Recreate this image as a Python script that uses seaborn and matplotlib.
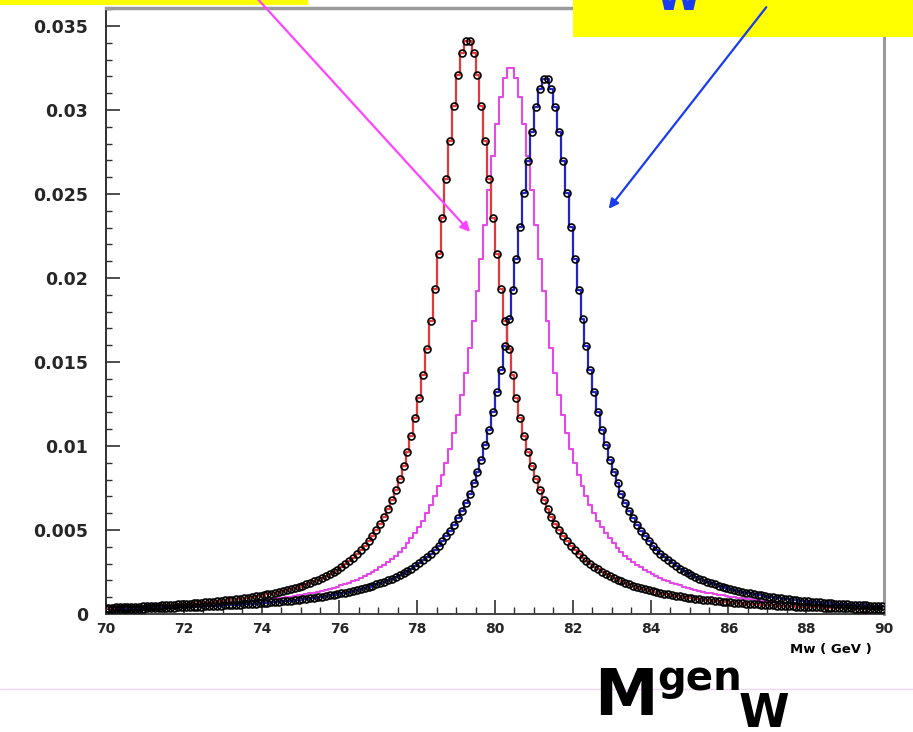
import numpy as np
import pandas as pd
import matplotlib
matplotlib.use("Agg")
import matplotlib.pyplot as plt
import seaborn as sns
from matplotlib.patches import Rectangle, FancyArrowPatch
from matplotlib.lines import Line2D
from matplotlib.ticker import MultipleLocator

# ---------------- data ----------------
# Histogram contents, 0.1 GeV bins from 70 to 90 GeV.
# "_even" lists: bins starting at 70.0, 70.2, ..., 89.8 ; "_odd": 70.1, 70.3, ..., 89.9
red_even = [
    0.000372, 0.000388, 0.000406, 0.000425, 0.000445, 0.000466, 0.000489, 0.000514, 0.000541, 0.000570,
    0.000601, 0.000635, 0.000672, 0.000713, 0.000756, 0.000804, 0.000857, 0.000915, 0.000979, 0.00105,
    0.00113, 0.00122, 0.00132, 0.00143, 0.00155, 0.00169, 0.00186, 0.00204, 0.00226, 0.00251,
    0.00280, 0.00314, 0.00355, 0.00404, 0.00463, 0.00536, 0.00626, 0.00737, 0.00878, 0.01057,
    0.01285, 0.01575, 0.01934, 0.02360, 0.02814, 0.03207, 0.03411, 0.03340, 0.03026, 0.02588,
    0.02140, 0.01746, 0.01422, 0.01164, 0.00963, 0.00804, 0.00678, 0.00578, 0.00498, 0.00432,
    0.00378, 0.00334, 0.00296, 0.00265, 0.00238, 0.00214, 0.00195, 0.00177, 0.00162, 0.00149,
    0.00137, 0.00126, 0.00117, 0.00109, 0.00101, 0.000946, 0.000885, 0.000830, 0.000780, 0.000734,
    0.000692, 0.000653, 0.000618, 0.000585, 0.000555, 0.000528, 0.000502, 0.000478, 0.000455, 0.000435,
    0.000415, 0.000397, 0.000380, 0.000364, 0.000349, 0.000335, 0.000322, 0.000310, 0.000298, 0.000287,
]
red_odd = [
    0.000380, 0.000397, 0.000415, 0.000435, 0.000455, 0.000478, 0.000502, 0.000528, 0.000555, 0.000585,
    0.000618, 0.000653, 0.000692, 0.000734, 0.000780, 0.000830, 0.000885, 0.000946, 0.001014, 0.001088,
    0.001172, 0.001265, 0.001369, 0.001487, 0.001620, 0.001772, 0.001945, 0.002145, 0.002376, 0.002646,
    0.002962, 0.003337, 0.003784, 0.004323, 0.004979, 0.005786, 0.006786, 0.008044, 0.009626, 0.01164,
    0.01422, 0.01746, 0.02140, 0.02588, 0.03026, 0.03340, 0.03411, 0.03207, 0.02814, 0.02360,
    0.01934, 0.01575, 0.01285, 0.01057, 0.00878, 0.00737, 0.00626, 0.00536, 0.00463, 0.00404,
    0.00355, 0.00314, 0.00280, 0.00251, 0.00226, 0.00204, 0.00186, 0.00169, 0.00155, 0.00143,
    0.00132, 0.00122, 0.00113, 0.00105, 0.000979, 0.000915, 0.000857, 0.000804, 0.000756, 0.000713,
    0.000672, 0.000635, 0.000601, 0.000570, 0.000541, 0.000514, 0.000489, 0.000466, 0.000445, 0.000425,
    0.000406, 0.000388, 0.000372, 0.000357, 0.000342, 0.000328, 0.000316, 0.000304, 0.000292, 0.000281,
]

magenta_even = [
    0.000314, 0.000326, 0.000339, 0.000353, 0.000368, 0.000383, 0.000400, 0.000418, 0.000437, 0.000457,
    0.000479, 0.000503, 0.000528, 0.000555, 0.000584, 0.000616, 0.000650, 0.000687, 0.000728, 0.000772,
    0.000820, 0.000873, 0.000931, 0.000995, 0.00107, 0.00114, 0.00123, 0.00133, 0.00144, 0.00156,
    0.00170, 0.00186, 0.00204, 0.00225, 0.00249, 0.00277, 0.00309, 0.00348, 0.00394, 0.00450,
    0.00517, 0.00599, 0.00700, 0.00827, 0.00985, 0.01185, 0.01435, 0.01746, 0.02116, 0.02526,
    0.02917, 0.03191, 0.03252, 0.03075, 0.02729, 0.02318, 0.01924, 0.01583, 0.01303, 0.01079,
    0.009013, 0.007599, 0.006469, 0.005558, 0.004815, 0.004206, 0.003700, 0.003280, 0.002924, 0.002621,
    0.002362, 0.002138, 0.001945, 0.001776, 0.001628, 0.001497, 0.001381, 0.001278, 0.001186, 0.001103,
    0.001029, 0.000962, 0.000901, 0.000846, 0.000795, 0.000749, 0.000707, 0.000668, 0.000633, 0.000600,
    0.000569, 0.000541, 0.000515, 0.000491, 0.000468, 0.000447, 0.000427, 0.000409, 0.000392, 0.000375,
]
magenta_odd = [
    0.000320, 0.000332, 0.000346, 0.000360, 0.000375, 0.000392, 0.000409, 0.000427, 0.000447, 0.000468,
    0.000491, 0.000515, 0.000541, 0.000569, 0.000600, 0.000633, 0.000668, 0.000707, 0.000749, 0.000795,
    0.000846, 0.000901, 0.000962, 0.001029, 0.001103, 0.001186, 0.001278, 0.001381, 0.001497, 0.001628,
    0.001776, 0.001945, 0.002138, 0.002362, 0.002621, 0.002924, 0.003280, 0.003700, 0.004206, 0.004815,
    0.005558, 0.006469, 0.007599, 0.009013, 0.01079, 0.01303, 0.01583, 0.01924, 0.02318, 0.02729,
    0.03075, 0.03252, 0.03191, 0.02917, 0.02526, 0.02116, 0.01746, 0.01435, 0.01185, 0.00985,
    0.00827, 0.00700, 0.00599, 0.00517, 0.00450, 0.00394, 0.00348, 0.00309, 0.00277, 0.00249,
    0.00225, 0.00204, 0.00186, 0.00170, 0.00156, 0.00144, 0.00133, 0.00123, 0.00114, 0.00107,
    0.000995, 0.000931, 0.000873, 0.000820, 0.000772, 0.000728, 0.000687, 0.000650, 0.000616, 0.000584,
    0.000555, 0.000528, 0.000503, 0.000479, 0.000457, 0.000437, 0.000418, 0.000400, 0.000383, 0.000368,
]

blue_even = [
    0.000276, 0.000285, 0.000296, 0.000307, 0.000319, 0.000331, 0.000344, 0.000358, 0.000373, 0.000389,
    0.000406, 0.000424, 0.000443, 0.000463, 0.000485, 0.000509, 0.000534, 0.000561, 0.000590, 0.000621,
    0.000655, 0.000692, 0.000732, 0.000776, 0.000824, 0.000876, 0.000933, 0.000996, 0.00106, 0.00114,
    0.00123, 0.00132, 0.00143, 0.00155, 0.00168, 0.00184, 0.00201, 0.00221, 0.00244, 0.00270,
    0.00302, 0.00338, 0.00381, 0.00433, 0.00495, 0.00570, 0.00663, 0.00777, 0.00919, 0.01097,
    0.01320, 0.01595, 0.01927, 0.02306, 0.02695, 0.03019, 0.03183, 0.03126, 0.02871, 0.02503,
    0.02112, 0.01754, 0.01450, 0.01202, 0.01003, 0.008444, 0.007170, 0.006143, 0.005309, 0.004625,
    0.004059, 0.003587, 0.003190, 0.002853, 0.002566, 0.002320, 0.002106, 0.001919, 0.001757, 0.001613,
    0.001486, 0.001374, 0.001273, 0.001183, 0.001102, 0.001029, 0.000963, 0.000904, 0.000849, 0.000799,
    0.000754, 0.000712, 0.000673, 0.000638, 0.000605, 0.000575, 0.000547, 0.000521, 0.000497, 0.000474,
]
blue_odd = [
    0.000280, 0.000291, 0.000301, 0.000313, 0.000325, 0.000338, 0.000351, 0.000366, 0.000381, 0.000397,
    0.000415, 0.000433, 0.000453, 0.000474, 0.000497, 0.000521, 0.000547, 0.000575, 0.000605, 0.000638,
    0.000673, 0.000712, 0.000754, 0.000799, 0.000849, 0.000904, 0.000963, 0.001029, 0.001102, 0.001183,
    0.001273, 0.001374, 0.001486, 0.001613, 0.001757, 0.001919, 0.002106, 0.002320, 0.002566, 0.002853,
    0.003190, 0.003587, 0.004059, 0.004625, 0.005309, 0.006143, 0.007170, 0.008444, 0.01003, 0.01202,
    0.01450, 0.01754, 0.02112, 0.02503, 0.02871, 0.03126, 0.03183, 0.03019, 0.02695, 0.02306,
    0.01927, 0.01595, 0.01320, 0.01097, 0.00919, 0.00777, 0.00663, 0.00570, 0.00495, 0.00433,
    0.00381, 0.00338, 0.00302, 0.00270, 0.00244, 0.00221, 0.00201, 0.00184, 0.00168, 0.00155,
    0.00143, 0.00132, 0.00123, 0.00114, 0.00106, 0.000996, 0.000933, 0.000876, 0.000824, 0.000776,
    0.000732, 0.000692, 0.000655, 0.000621, 0.000590, 0.000561, 0.000534, 0.000509, 0.000485, 0.000463,
]

x_ticks = [70, 72, 74, 76, 78, 80, 82, 84, 86, 88, 90]
x_tick_labels = ["70", "72", "74", "76", "78", "80", "82", "84", "86", "88", "90"]
y_ticks = [0, 0.005, 0.01, 0.015, 0.02, 0.025, 0.03, 0.035]
y_tick_labels = ["0", "0.005", "0.01", "0.015", "0.02", "0.025", "0.03", "0.035"]
x_axis_title = "Mw ( GeV )"

# ---------------- table ----------------
def merge(even, odd):
    return np.column_stack([even, odd]).ravel()

bin_edges = np.round(np.linspace(70.0, 90.0, 201), 2)
bin_centers = np.round((bin_edges[:-1] + bin_edges[1:]) / 2, 3)
df = pd.DataFrame({"mw": bin_centers,
                   "red": merge(red_even, red_odd),
                   "magenta": merge(magenta_even, magenta_odd),
                   "blue": merge(blue_even, blue_odd)})

# ---------------- styling ----------------
sns.set_style("white")
plt.rcParams["font.family"] = ["DejaVu Sans"]

W, H = 913, 732
fig = plt.figure(figsize=(W / 100, H / 100), dpi=100)
fig.patch.set_facecolor("white")

ax_left, ax_right, ax_bottom, ax_top = 106, 884, 614, 8
ax = fig.add_axes([ax_left / W, (H - ax_bottom) / H,
                   (ax_right - ax_left) / W, (ax_bottom - ax_top) / H])

RED = "#e03a3a"
MAG = "#e448e8"
BLUE = "#2424c0"

hist_kw = dict(binwidth=0.1, binrange=(70, 90), element="step", fill=False, ax=ax)
sns.histplot(data=df, x="mw", weights="magenta", color=MAG, linewidth=1.5, **hist_kw)
sns.histplot(data=df, x="mw", weights="blue", color=BLUE, linewidth=1.6, **hist_kw)
sns.histplot(data=df, x="mw", weights="red", color=RED, linewidth=1.6, **hist_kw)

for col in ["blue", "red"]:
    sns.lineplot(data=df, x="mw", y=col, ax=ax, marker="o", linestyle="none",
                 markersize=5, mfc="none", mec="black", mew=1.2, color="black",
                 legend=False, zorder=5)

ax.set_xlim(70, 90)
ax.set_ylim(0, (ax_bottom - ax_top) * 0.005 / 84)

ax.set_xticks(x_ticks)
ax.set_xticklabels(x_tick_labels, fontsize=10, fontweight="bold")
ax.set_yticks(y_ticks)
ax.set_yticklabels(y_tick_labels, fontsize=12.5, fontweight="bold")
ax.xaxis.set_minor_locator(MultipleLocator(0.5))
ax.yaxis.set_minor_locator(MultipleLocator(0.001))
ax.tick_params(axis="x", which="major", direction="in", length=10, width=1.2,
               color="#303030", pad=6, bottom=True, top=False)
ax.tick_params(axis="x", which="minor", direction="in", length=5, width=1.0,
               color="#303030", bottom=True, top=False)
ax.tick_params(axis="y", which="major", direction="in", length=10, width=1.2,
               color="#303030", pad=13, left=True, right=False)
ax.tick_params(axis="y", which="minor", direction="in", length=4, width=1.0,
               color="#303030", left=True, right=False)
ax.set_xlabel("")
ax.set_ylabel("")

for side, c, lw in [("left", "#303030", 1.4), ("bottom", "#404040", 1.4),
                    ("top", "#9a9a9a", 2.5), ("right", "#9a9a9a", 2.2)]:
    ax.spines[side].set_visible(True)
    ax.spines[side].set_color(c)
    ax.spines[side].set_linewidth(lw)

fig.text(831 / W, 1 - 650 / H, x_axis_title, ha="center", va="center",
         fontsize=9.5, fontweight="bold", color="black")

# faint separator line
fig.add_artist(Line2D([0, 1], [1 - 689 / H, 1 - 689 / H], transform=fig.transFigure,
                      color="#f0d6f0", linewidth=1.0))

# yellow boxes
fig.add_artist(Rectangle((0, 1 - 5 / H), 308 / W, 5 / H, transform=fig.transFigure,
                         facecolor="#ffff00", edgecolor="none", zorder=10))
fig.add_artist(Rectangle((573 / W, 1 - 37 / H), (W - 573) / W, 37 / H,
                         transform=fig.transFigure, facecolor="#ffff00",
                         edgecolor="none", zorder=10))
fig.text(656 / W, 1 - 10 / H, "W", ha="left", va="baseline", fontsize=30,
         fontweight="bold", color="#1a3cf0", zorder=11)

# arrows
fig.add_artist(FancyArrowPatch((255 / W, 1 + 4 / H), (472 / W, 1 - 234 / H),
                               transform=fig.transFigure, arrowstyle="-|>",
                               mutation_scale=14, color="#ff44ff", linewidth=1.6,
                               zorder=12))
fig.add_artist(FancyArrowPatch((768 / W, 1 - 5 / H), (607 / W, 1 - 211 / H),
                               transform=fig.transFigure, arrowstyle="-|>",
                               mutation_scale=14, color="#1a3cf0", linewidth=1.6,
                               zorder=12))

# big label M^gen_W
fig.text(594 / W, (H - 715) / H, "M", ha="left", va="baseline", fontsize=46,
         fontweight="bold", color="black")
fig.text(657 / W, (H - 690) / H, "gen", ha="left", va="baseline", fontsize=29,
         fontweight="bold", color="black")
fig.text(739 / W, (H - 727) / H, "W", ha="left", va="baseline", fontsize=33,
         fontweight="bold", color="black")

fig.savefig("out.png", dpi=100, facecolor="white")
